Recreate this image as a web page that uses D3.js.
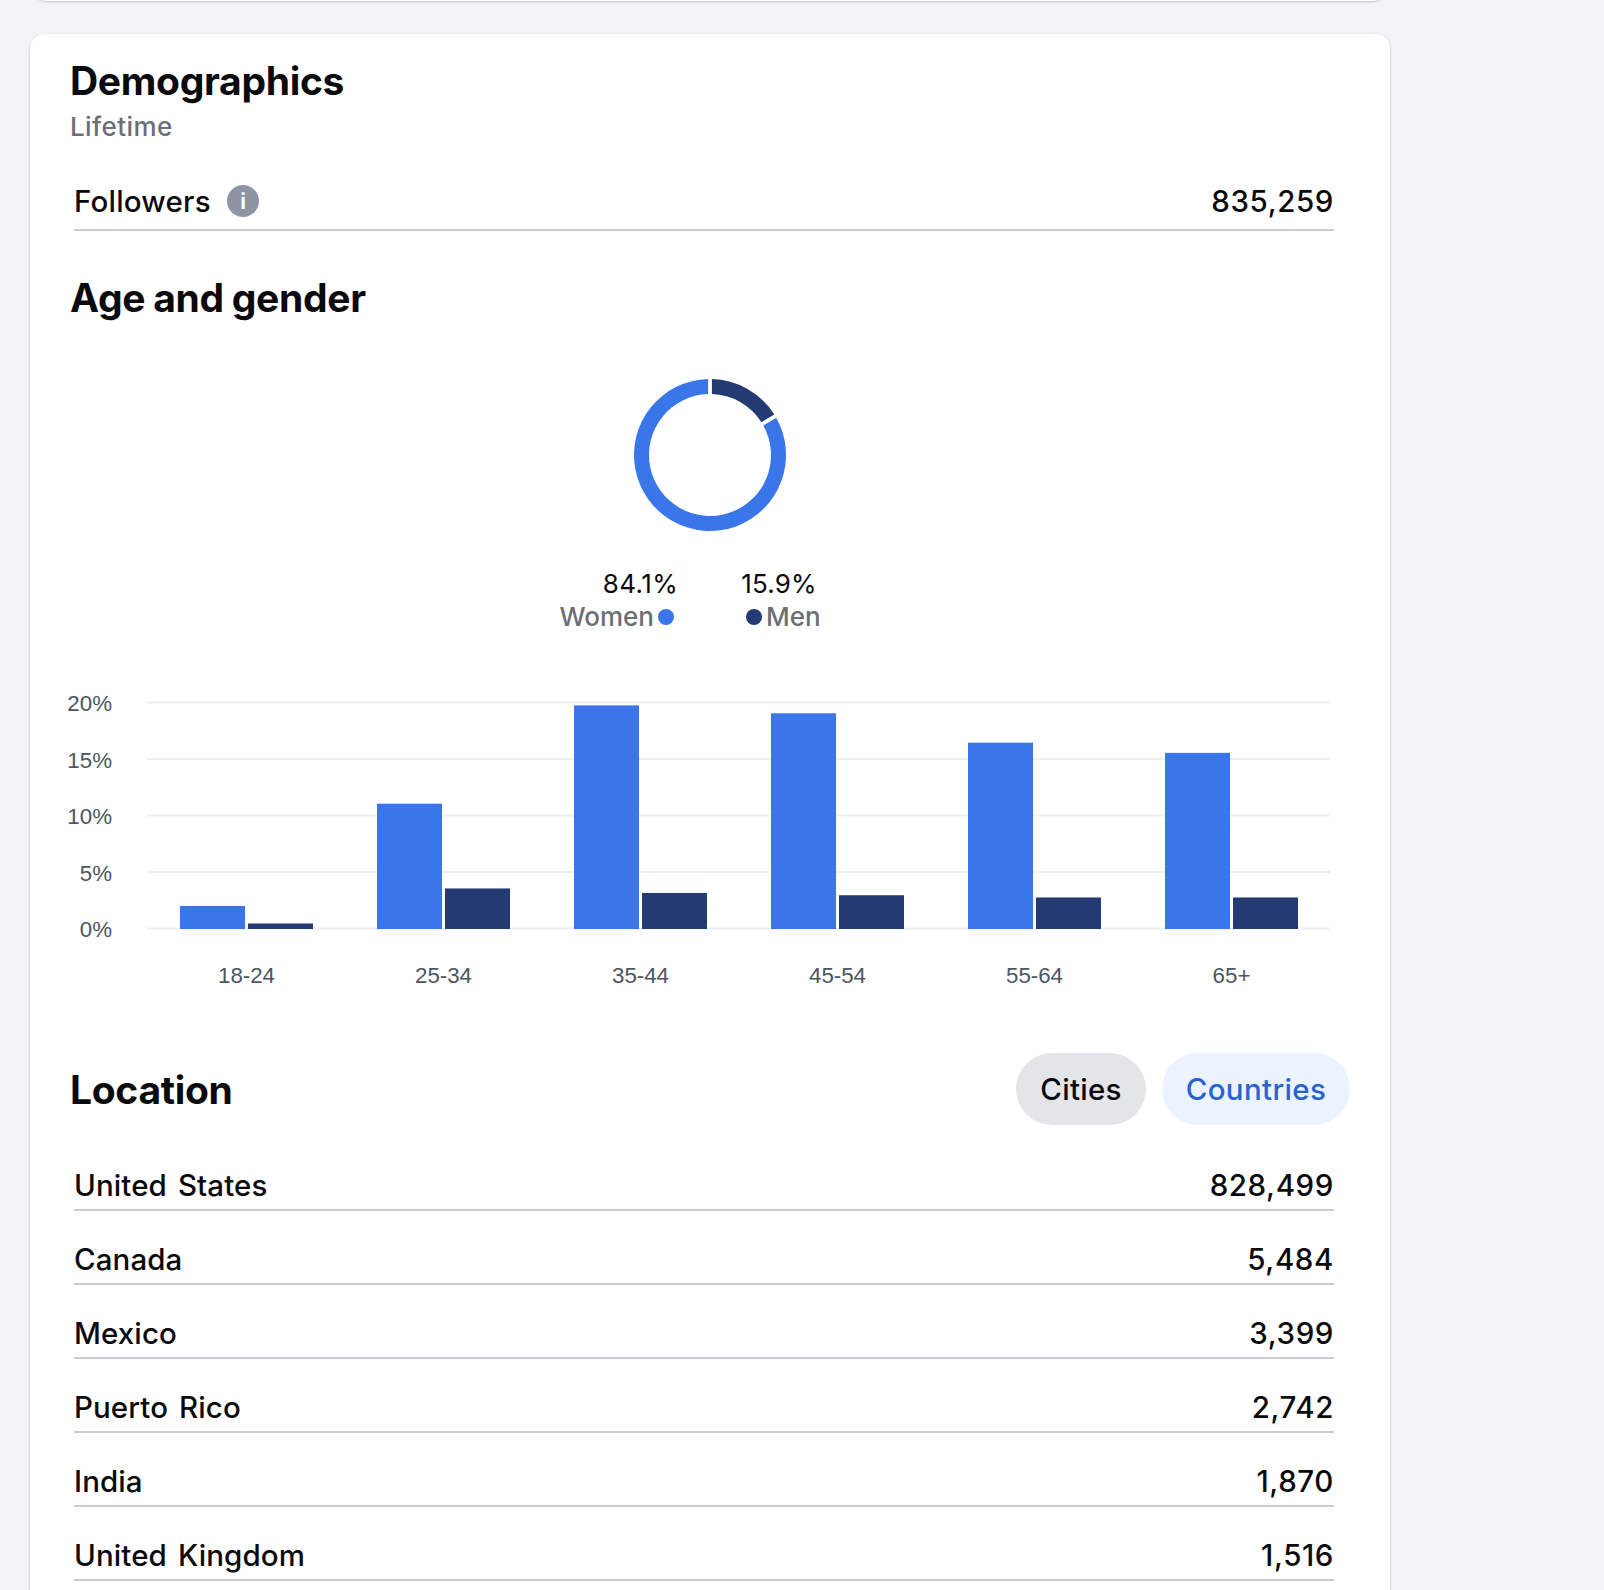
<!DOCTYPE html>
<html>
<head>
<meta charset="utf-8">
<script src="https://cdn.jsdelivr.net/npm/d3@7"></script>
<style>
  html, body { margin: 0; padding: 0; background: #f2f4f8; overflow: hidden; }
  text { font-family: Inter, "Noto Sans", sans-serif; }
  .axis text { font-family: "Liberation Sans", Arial, sans-serif; font-size: 22.3px; fill: #4b5563; }
  .axis .domain { display: none; }
  .num { letter-spacing: 0.6px; }
  .head { letter-spacing: -0.3px; }
  .row { letter-spacing: 0.1px; word-spacing: 3px; }
</style>
</head>
<body>
<svg id="page" width="1604" height="1590"></svg>
<script>
document.addEventListener('DOMContentLoaded', function() {
  var blue = "#3a75e9";
  var navy = "#243a73";
  var ink = "#0a0a0c";
  var gray = "#6c6e76";
  var rule = "#cbccd3";

  var gender = [
    { name: "Men", value: 15.9 },
    { name: "Women", value: 84.1 }
  ];
  var ages = [
    { group: "18-24", Women: 1.95, Men: 0.4 },
    { group: "25-34", Women: 11.0, Men: 3.5 },
    { group: "35-44", Women: 19.7, Men: 3.1 },
    { group: "45-54", Women: 19.0, Men: 2.9 },
    { group: "55-64", Women: 16.4, Men: 2.7 },
    { group: "65+", Women: 15.5, Men: 2.7 }
  ];
  var countries = [
    { name: "United States", value: 828499 },
    { name: "Canada", value: 5484 },
    { name: "Mexico", value: 3399 },
    { name: "Puerto Rico", value: 2742 },
    { name: "India", value: 1870 },
    { name: "United Kingdom", value: 1516 }
  ];

  var svg = d3.select("#page");
  var defs = svg.append("defs");
  var shadow = defs.append("filter").attr("id", "cardShadow")
    .attr("x", "-2%").attr("y", "-2%").attr("width", "104%").attr("height", "104%");
  shadow.append("feDropShadow").attr("dx", 0).attr("dy", 1).attr("stdDeviation", 1.5)
    .attr("flood-color", "#000").attr("flood-opacity", 0.22);

  // cards
  svg.append("rect").attr("x", 34).attr("y", -60).attr("width", 1352).attr("height", 61)
    .attr("rx", 14).attr("fill", "#fff").attr("filter", "url(#cardShadow)");
  svg.append("rect").attr("x", 30).attr("y", 34).attr("width", 1360).attr("height", 1640)
    .attr("rx", 15).attr("fill", "#fff").attr("filter", "url(#cardShadow)");

  function label(x, y, str, size, weight, color, anchor) {
    return svg.append("text").attr("x", x).attr("y", y).text(str)
      .attr("font-size", size).attr("font-weight", weight)
      .attr("fill", color).attr("text-anchor", anchor || "start");
  }

  label(70, 95, "Demographics", 39, 650, ink).attr("class", "head");
  label(70, 136, "Lifetime", 26, 550, gray).style("letter-spacing", "0.4px");
  label(74, 212, "Followers", 29.5, 550, ink).style("letter-spacing", "0.2px");
  label(1334, 212, d3.format(",")(835259), 29.5, 550, ink, "end").attr("class", "num");
  svg.append("circle").attr("cx", 243).attr("cy", 201).attr("r", 16).attr("fill", "#8d95a3");
  label(243, 209, "i", 21, 700, "#fff", "middle");
  svg.append("line").attr("x1", 74).attr("x2", 1334).attr("y1", 230).attr("y2", 230)
    .attr("stroke", rule).attr("stroke-width", 2);
  label(70, 312, "Age and gender", 39, 650, ink).attr("class", "head").style("word-spacing", "-1px");

  // donut
  var pie = d3.pie().sort(null).value(function(d) { return d.value; }).padAngle(0.05);
  var arc = d3.arc().innerRadius(61).outerRadius(76).padRadius(76);
  svg.append("g").attr("transform", "translate(710,455)")
    .selectAll("path").data(pie(gender)).enter().append("path")
    .attr("d", arc)
    .attr("fill", function(d) { return d.data.name == "Women" ? blue : navy; });

  label(640.5, 593, "84.1%", 26, 400, ink, "middle").style("letter-spacing", "0.4px");
  label(779, 593, "15.9%", 26, 400, ink, "middle").style("letter-spacing", "0.2px");
  label(654, 626, "Women", 26, 550, gray, "end");
  svg.append("circle").attr("cx", 666).attr("cy", 617).attr("r", 8).attr("fill", blue);
  svg.append("circle").attr("cx", 754).attr("cy", 617).attr("r", 8).attr("fill", navy);
  label(766, 626, "Men", 26, 550, gray);

  // grouped bars
  var x0 = d3.scaleBand().domain(ages.map(function(d) { return d.group; }))
    .range([148, 1330]).paddingInner(0.325).paddingOuter(0.1625);
  var x1 = d3.scaleBand().domain(["Women", "Men"]).range([0, x0.bandwidth()]).paddingInner(0.044);
  var y = d3.scaleLinear().domain([0, 20]).range([928, 702]);

  var yAxis = svg.append("g").attr("class", "axis")
    .attr("transform", "translate(147,0)")
    .call(d3.axisLeft(y).tickValues([0, 5, 10, 15, 20]).tickSize(-1183).tickPadding(35)
      .tickFormat(function(d) { return d + "%"; }));
  yAxis.selectAll(".tick line").attr("stroke", "#eeeff1").attr("stroke-width", 2);
  yAxis.selectAll(".tick text").attr("dy", "0.4em");

  svg.append("g").selectAll("g").data(ages).enter().append("g")
    .attr("transform", function(d) { return "translate(" + x0(d.group) + ",0)"; })
    .selectAll("rect")
    .data(function(d) {
      return ["Women", "Men"].map(function(k) { return { key: k, value: d[k] }; });
    })
    .enter().append("rect")
    .attr("x", function(d) { return x1(d.key); })
    .attr("y", function(d) { return y(d.value); })
    .attr("width", x1.bandwidth())
    .attr("height", function(d) { return y(0) - y(d.value) + 1; })
    .attr("fill", function(d) { return d.key == "Women" ? blue : navy; });

  svg.append("g").attr("class", "axis")
    .attr("transform", "translate(0,928)")
    .call(d3.axisBottom(x0).tickSize(0).tickPadding(39));

  // location
  label(70, 1104, "Location", 39, 650, ink).attr("class", "head");
  svg.append("rect").attr("x", 1016).attr("y", 1053).attr("width", 130).attr("height", 72)
    .attr("rx", 36).attr("fill", "#e4e5e9");
  svg.append("rect").attr("x", 1162).attr("y", 1053).attr("width", 188).attr("height", 72)
    .attr("rx", 36).attr("fill", "#ebf3fe");
  label(1081, 1100, "Cities", 29.5, 550, ink, "middle").style("letter-spacing", "0.3px");
  label(1256, 1100, "Countries", 29.5, 550, "#2a62d2", "middle").style("letter-spacing", "0.35px");

  var rows = svg.append("g").selectAll("g").data(countries).enter().append("g")
    .attr("transform", function(d, i) { return "translate(0," + (1210 + i * 74) + ")"; });
  rows.append("text").attr("class", "row").attr("x", 74).attr("y", -14).text(function(d) { return d.name; })
    .attr("font-size", 29.5).attr("font-weight", 550).attr("fill", ink);
  rows.append("text").attr("class", "num").attr("x", 1334).attr("y", -14).text(function(d) { return d3.format(",")(d.value); })
    .attr("font-size", 29.5).attr("font-weight", 550).attr("fill", ink).attr("text-anchor", "end");
  rows.append("line").attr("x1", 74).attr("x2", 1334)
    .attr("stroke", rule).attr("stroke-width", 2);
}, false);
</script>
</body>
</html>
